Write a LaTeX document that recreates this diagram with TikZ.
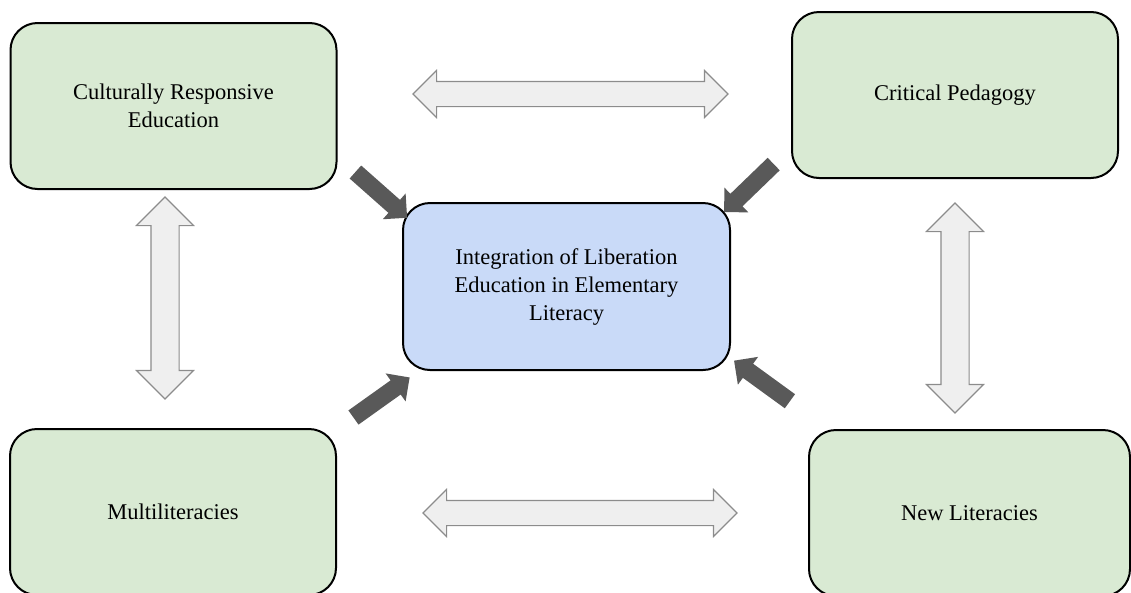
\documentclass[tikz,border=0pt]{standalone}
\usepackage{fontspec}
\setmainfont{Liberation Serif}
\usepackage{xcolor}
\usepackage{tikz}
\usetikzlibrary{shapes.arrows}
\definecolor{boxgreen}{HTML}{D9EAD3}
\definecolor{boxblue}{HTML}{C9DAF8}
\definecolor{pushgray}{HTML}{595959}
\definecolor{linkgray}{HTML}{EFEFEF}
\definecolor{rimgray}{HTML}{8C8C8C}
\def\boxfont{\fontsize{22.5}{28}\selectfont}

\begin{document}
\begin{tikzpicture}[x=1pt,y=-1pt,
	topic/.style={draw=black,line width=2pt,rounded corners=27pt,fill=boxgreen,
		minimum width=326pt,minimum height=166pt,align=center,font=\boxfont},
	core/.style={topic,fill=boxblue},
	link/.style={double arrow,draw=rimgray,fill=linkgray,line width=1.1pt,inner xsep=0pt,
		inner ysep=12pt,double arrow head extend=11pt,minimum width=46pt},
	uplink/.style={link,rotate=90,inner ysep=13.5pt,double arrow head extend=14.5pt,minimum width=56pt},
	push/.style={single arrow,fill=pushgray,inner xsep=0pt,inner ysep=8.5pt,minimum width=34pt,
		single arrow head extend=8.5pt,minimum height=69pt}]
				\useasboundingbox (0,0) rectangle (1131,592);
				\node[topic] (cre) at (173.5,106) {Culturally Responsive\\Education};
				\node[topic] (cp) at (955,95) {Critical Pedagogy};
				\node[core,minimum width=327pt,minimum height=167pt] (iel) at (566.5,286.5) {Integration of Liberation\\Education in Elementary\\Literacy};
				\node[topic] (ml) at (173,512) {Multiliteracies};
				\node[topic,minimum width=321pt] (nl) at (969.5,513) {New Literacies};
				\node[link,minimum height=315pt] (top) at (570.5,94) {};
				\node[link,minimum height=314pt] (bottom) at (580,513) {};
				\node[uplink,minimum height=202pt] (left) at (165,298) {};
				\node[uplink,minimum height=210pt] (right) at (955,308) {};
				\node[push,rotate=-41.5] (fromcre) at (378,192) {};
				\node[push,rotate=-136] (fromcp) at (752,185) {};
				\node[push,rotate=35.5] (fromml) at (378,400) {};
				\node[push,rotate=144] (fromnl) at (765.5,383.5) {};
			\end{tikzpicture}
\end{document}
